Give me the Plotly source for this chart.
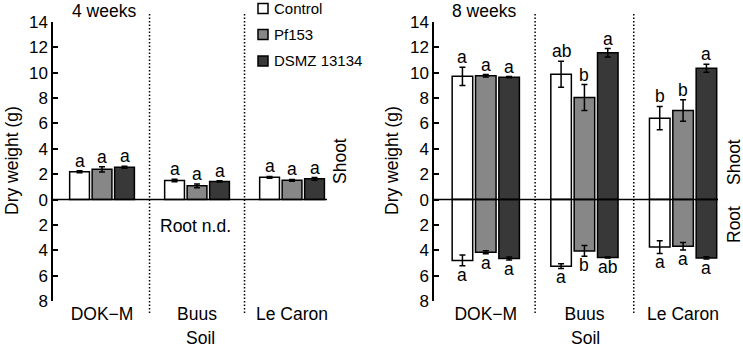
import plotly.graph_objects as go

# ---------------- data ----------------
soils = ["DOK\u2212M", "Buus", "Le Caron"]
series = ["Control", "Pf153", "DSMZ 13134"]
colors = ["#ffffff", "#878787", "#383838"]

# 4 weeks, shoot
shoot4 = [[2.20, 1.50, 1.75], [2.38, 1.08, 1.52], [2.55, 1.43, 1.63]]
shoot4_err = [[0.08, 0.10, 0.07], [0.20, 0.15, 0.07], [0.08, 0.05, 0.10]]
shoot4_let = [["a", "a", "a"], ["a", "a", "a"], ["a", "a", "a"]]

# 8 weeks, shoot
shoot8 = [[9.72, 9.88, 6.42], [9.76, 8.05, 7.02], [9.65, 11.58, 10.35]]
shoot8_err = [[0.72, 1.02, 0.92], [0.10, 1.02, 0.85], [0.05, 0.33, 0.32]]
shoot8_let = [["a", "ab", "b"], ["a", "b", "b"], ["a", "a", "a"]]

# 8 weeks, root
root8 = [[4.80, 5.25, 3.75], [4.15, 4.05, 3.68], [4.65, 4.57, 4.60]]
root8_err = [[0.43, 0.18, 0.50], [0.12, 0.42, 0.30], [0.12, 0.04, 0.08]]
root8_let = [["a", "a", "a"], ["a", "b", "a"], ["a", "ab", "a"]]

y_tickvals = [-8, -6, -4, -2, 0, 2, 4, 6, 8, 10, 12, 14]
y_ticktext = ["8", "6", "4", "2", "0", "2", "4", "6", "8", "10", "12", "14"]

# ---------------- style ----------------
FONT = "Arial, 'Liberation Sans', sans-serif"
W, H = 743, 347
BARGAP = 0.29
BARGROUPGAP = 0.12
slot = (1 - BARGAP) / 3


def px(x):
    return x / W


def py(y):
    return 1 - y / H


fig = go.Figure()

xs = list(range(len(soils)))
for k, name in enumerate(series):
    # left panel shoot
    fig.add_trace(go.Bar(
        x=xs, y=shoot4[k], xaxis="x", yaxis="y", offsetgroup=str(k),
        marker=dict(color=colors[k], line=dict(color="black", width=1.5)),
        error_y=dict(type="data", array=shoot4_err[k], color="black", thickness=1.5, width=3),
        showlegend=False, name=name))
    # right panel shoot
    fig.add_trace(go.Bar(
        x=xs, y=shoot8[k], xaxis="x2", yaxis="y2", offsetgroup=str(k),
        marker=dict(color=colors[k], line=dict(color="black", width=1.5)),
        error_y=dict(type="data", array=shoot8_err[k], color="black", thickness=1.5, width=3),
        showlegend=False, name=name))
    # right panel root (drawn downward)
    fig.add_trace(go.Bar(
        x=xs, y=[-v for v in root8[k]], xaxis="x2", yaxis="y2", offsetgroup=str(k),
        marker=dict(color=colors[k], line=dict(color="black", width=1.5)),
        error_y=dict(type="data", array=root8_err[k], color="black", thickness=1.5, width=3),
        showlegend=False, name=name))

annotations = []
for k in range(3):
    for i in range(3):
        xo = i + (k - 1) * slot
        annotations.append(dict(x=xo, y=shoot4[k][i] + shoot4_err[k][i], xref="x", yref="y",
                                text=shoot4_let[k][i], showarrow=False, yanchor="bottom",
                                yshift=-2, font=dict(size=17.5, family=FONT, color="black")))
        annotations.append(dict(x=xo, y=shoot8[k][i] + shoot8_err[k][i], xref="x2", yref="y2",
                                text=shoot8_let[k][i], showarrow=False, yanchor="bottom",
                                yshift=-2, font=dict(size=17.5, family=FONT, color="black")))
        annotations.append(dict(x=xo, y=-(root8[k][i] + root8_err[k][i]), xref="x2", yref="y2",
                                text=root8_let[k][i], showarrow=False, yanchor="top",
                                yshift=3, font=dict(size=17.5, family=FONT, color="black")))


def txt(x, y, s, size=17, angle=0, xanchor="center"):
    annotations.append(dict(x=px(x), y=py(y), xref="paper", yref="paper", text=s,
                            showarrow=False, textangle=angle, xanchor=xanchor, yanchor="middle",
                            font=dict(size=size, family=FONT, color="black")))


txt(70, 11, "4 weeks", 17.5, xanchor="left")
txt(450, 11, "8 weeks", 17.5, xanchor="left")
txt(12, 161, "Dry weight (g)", 17.5, -90)
txt(392, 161, "Dry weight (g)", 17.5, -90)
txt(340, 161, "Shoot", 17.5, -90)
txt(734, 162, "Shoot", 17.5, -90)
txt(734, 225, "Root", 17.5, -90)
txt(195, 226, "Root n.d.", 17.5)
txt(200, 338, "Soil", 17.5)
txt(585, 338, "Soil", 17.5)

shapes = []
# legend
leg_y = [8.5, 34.5, 61]
for k, name in enumerate(series):
    shapes.append(dict(type="rect", xref="paper", yref="paper",
                       x0=px(258), x1=px(268), y0=py(leg_y[k] + 5), y1=py(leg_y[k] - 5),
                       fillcolor=colors[k], line=dict(color="black", width=1.5)))
    txt(272, leg_y[k], name, 15, xanchor="left")

# separators
for xr in ["x", "x2"]:
    for xv in [0.5, 1.5]:
        shapes.append(dict(type="line", xref=xr, yref="paper", x0=xv, x1=xv,
                           y0=py(313), y1=py(13),
                           line=dict(color="black", width=1.5, dash="1.5px,2px")))
# zero lines
for xr, yr in [("x", "y"), ("x2", "y2")]:
    shapes.append(dict(type="line", xref=xr + " domain", yref=yr, x0=0, x1=1, y0=0, y1=0,
                       line=dict(color="black", width=1.5), layer="above"))

ydom = [py(301), py(22)]
yax = dict(domain=ydom, range=[-8, 14], tickvals=y_tickvals, ticktext=y_ticktext,
           ticks="inside", ticklen=5, tickwidth=1.5, tickcolor="black", automargin=False,
           showline=True, linecolor="black", linewidth=1.5, showgrid=False, zeroline=False,
           tickfont=dict(size=17, family=FONT, color="black"))
xax = dict(tickvals=xs, ticktext=soils, ticks="", showline=False, showgrid=False,
           zeroline=False, automargin=False, tickfont=dict(size=17.5, family=FONT, color="black"))

fig.update_layout(
    template="none",
    width=W, height=H, margin=dict(l=0, r=0, t=0, b=0, pad=0), autosize=False,
    paper_bgcolor="white", plot_bgcolor="white",
    barmode="group", bargap=BARGAP, bargroupgap=BARGROUPGAP,
    xaxis=dict(domain=[px(53), px(327)], range=[-0.516, 2.368], anchor="y", **xax),
    xaxis2=dict(domain=[px(434), px(718)], range=[-0.525, 2.354], anchor="y2", **xax),
    yaxis=dict(anchor="x", **yax),
    yaxis2=dict(anchor="x2", **yax),
    annotations=annotations, shapes=shapes, showlegend=False,
    font=dict(family=FONT, color="black"),
)

fig.write_html("out.html", config={"displayModeBar": False},
               post_script="document.body.style.margin='0';")
